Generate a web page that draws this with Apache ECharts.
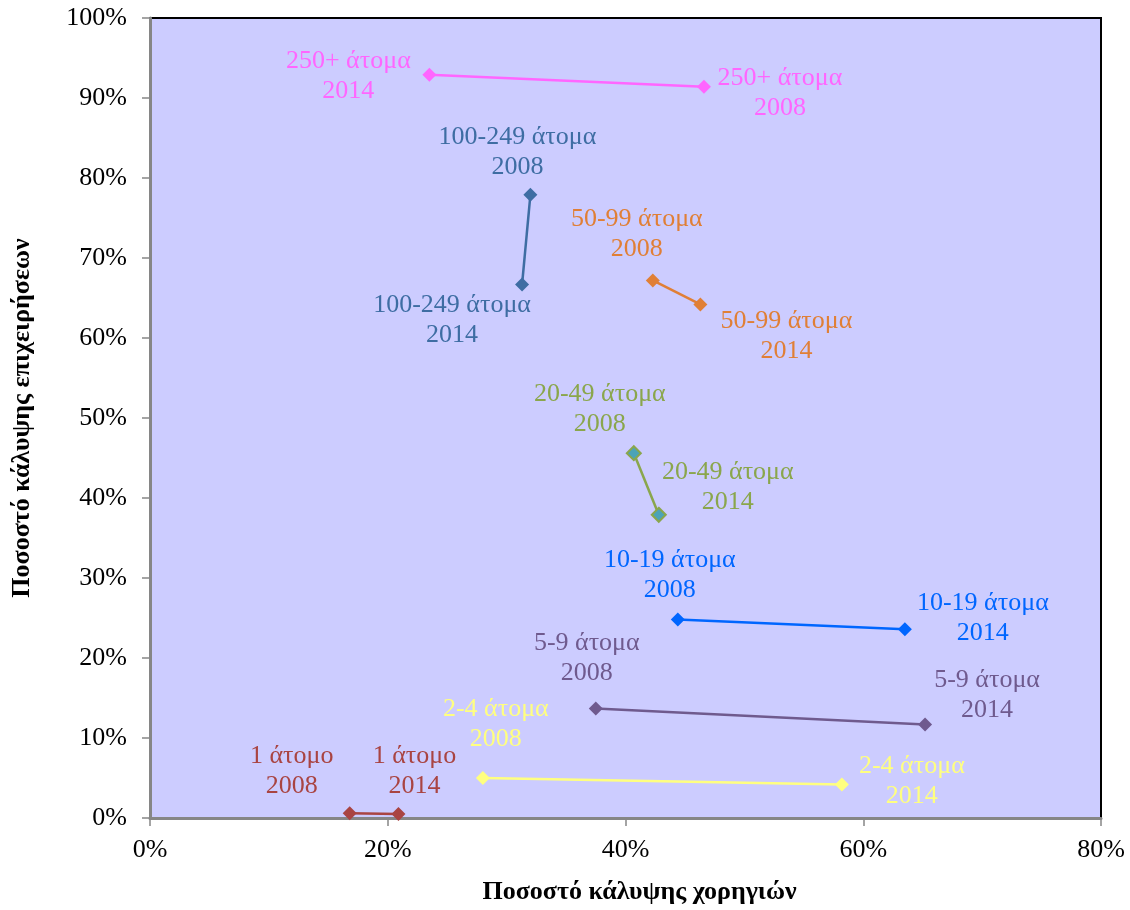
<!DOCTYPE html>
<html><head><meta charset="utf-8">
<script src="https://cdn.jsdelivr.net/npm/echarts@6/dist/echarts.min.js"></script>
<style>html,body{margin:0;padding:0;background:#fff}#c{width:1130px;height:910px}</style>
</head><body><div id="c"></div>
<script>
const groups = ['1 άτομο','2-4 άτομα','5-9 άτομα','10-19 άτομα','20-49 άτομα','50-99 άτομα','100-249 άτομα','250+ άτομα'];
const x2008 = [16.8, 28.0, 37.5, 44.4, 40.7, 42.3, 32.0, 46.6];
const y2008 = [0.6, 5.0, 13.7, 24.8, 45.6, 67.2, 77.9, 91.4];
const x2014 = [20.9, 58.2, 65.2, 63.5, 42.8, 46.3, 31.3, 23.5];
const y2014 = [0.5, 4.2, 11.7, 23.6, 37.9, 64.2, 66.7, 92.9];
const years = ['2008', '2014'];
const xTicks = [0, 20, 40, 60, 80];
const yTicks = [0, 10, 20, 30, 40, 50, 60, 70, 80, 90, 100];

// layout / style (not data)
const colors = ['#A94442','#FFFF80','#6F5A8E','#0066FF','#8AA64C','#E07F36','#3E6DA3','#FF66FF'];
const markerFill = ['#A94442','#FFFF80','#6F5A8E','#0066FF','#4BA3B8','#E07F36','#3E6DA3','#FF66FF'];
const labelOff2008 = [[-58,-42],[13,-54],[-9,-50],[-8,-44],[-34,-44],[-16,-46],[-13,-43],[76,6]];
const labelOff2014 = [[16,-43],[70,-3],[62,-29],[78,-11],[69,-28],[86,32],[-70,36],[-81,1]];
const FONT = '"Liberation Serif", "Times New Roman", serif';

const series = groups.map((g, i) => ({
  type: 'line',
  name: g,
  symbol: 'diamond',
  symbolSize: 14,
  lineStyle: { color: colors[i], width: 2.5 },
  itemStyle: { color: markerFill[i], borderColor: colors[i], borderWidth: i === 4 ? 2 : 0 },
  label: {
    show: true, position: 'inside', align: 'center', verticalAlign: 'middle',
    color: colors[i], fontFamily: FONT, fontSize: 26, lineHeight: 30,
    formatter: p => g + '\n' + years[p.dataIndex]
  },
  data: [
    { value: [x2008[i], y2008[i]], label: { offset: labelOff2008[i] } },
    { value: [x2014[i], y2014[i]], label: { offset: labelOff2014[i] } }
  ],
  z: 3
}));

const chart = echarts.init(document.getElementById('c'), null, { renderer: 'canvas' });
chart.setOption({
  animation: false,
  grid: { left: 150, right: 29, top: 18, bottom: 90, show: true,
          backgroundColor: '#CCCCFF', borderColor: '#000', borderWidth: 2 },
  xAxis: {
    type: 'value', min: xTicks[0], max: xTicks[xTicks.length-1], interval: 20,
    name: 'Ποσοστό κάλυψης χορηγιών', nameLocation: 'middle', nameGap: 61,
    nameTextStyle: { fontFamily: FONT, fontSize: 26, fontWeight: 'bold', color: '#000', padding: [0, 0, 0, 28] },
    axisLine: { show: true, lineStyle: { color: '#868686', width: 3 } },
    axisTick: { show: true, length: 8, lineStyle: { color: '#868686', width: 1.5 } },
    axisLabel: { fontFamily: FONT, fontSize: 26, color: '#000', margin: 19, formatter: v => v + '%' },
    splitLine: { show: false }
  },
  yAxis: {
    type: 'value', min: yTicks[0], max: yTicks[yTicks.length-1], interval: 10,
    name: 'Ποσοστό κάλυψης επιχειρήσεων', nameLocation: 'middle', nameGap: 115,
    nameTextStyle: { fontFamily: FONT, fontSize: 26, fontWeight: 'bold', color: '#000' },
    axisLine: { show: true, lineStyle: { color: '#868686', width: 3 } },
    axisTick: { show: true, length: 8, lineStyle: { color: '#868686', width: 1.5 } },
    axisLabel: { fontFamily: FONT, fontSize: 26, color: '#000', margin: 23, formatter: v => v + '%' },
    splitLine: { show: false }
  },
  series
});
</script></body></html>
